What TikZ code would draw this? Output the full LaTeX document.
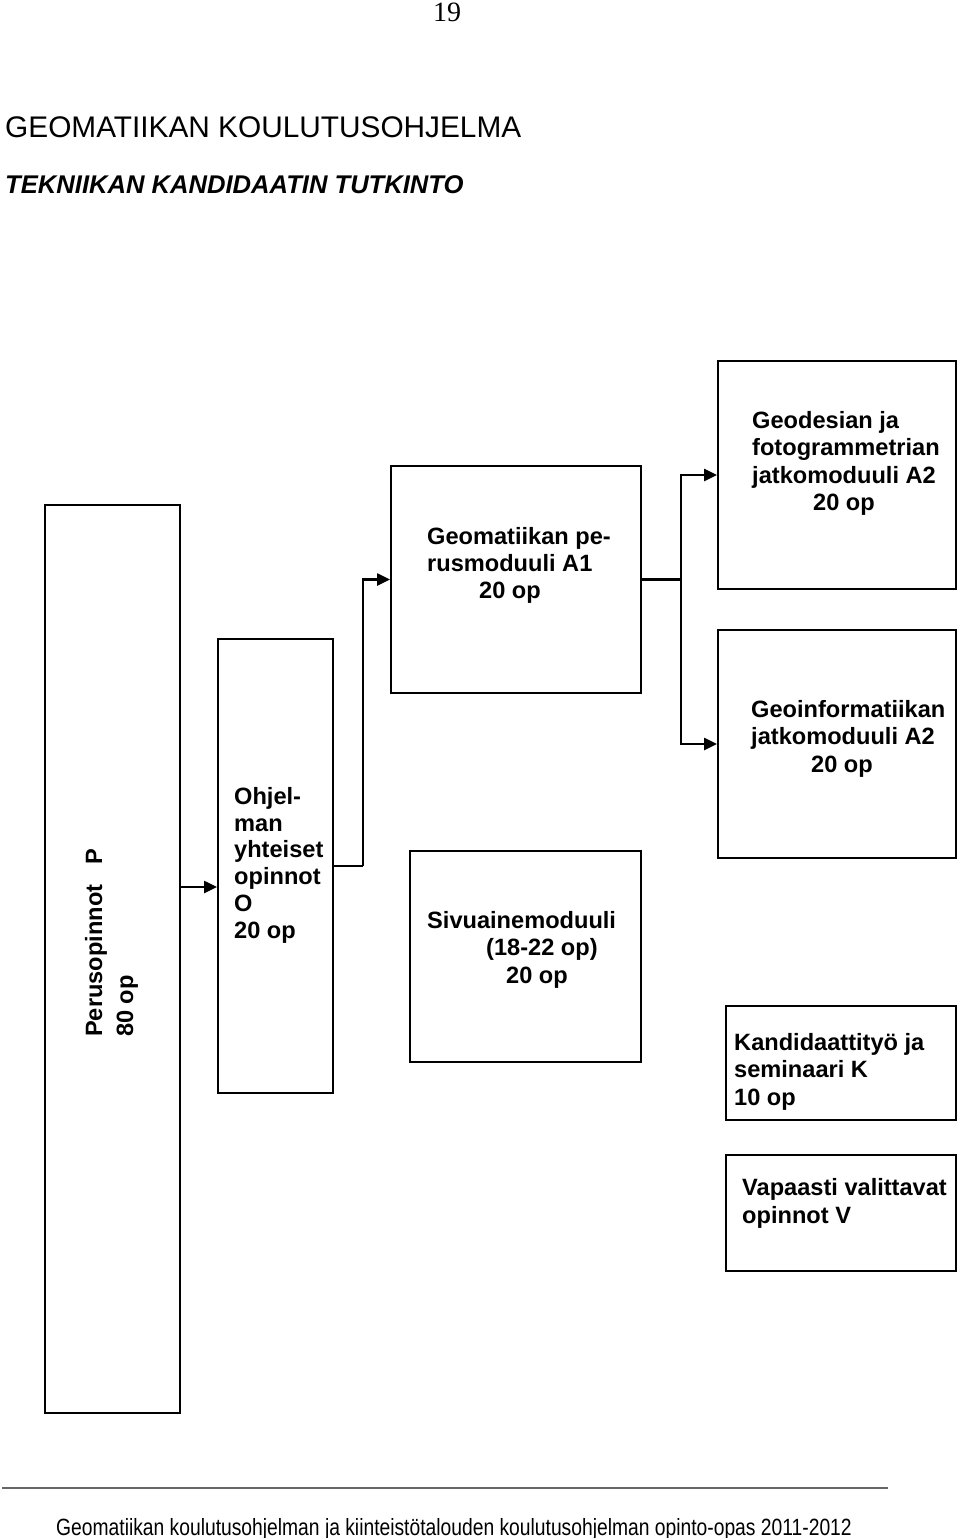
\documentclass[tikz,border=0pt]{standalone}
\usepackage{fontspec}
\setmainfont{Liberation Sans}
\newfontfamily\seriffont{Liberation Serif}
\newfontfamily\narrowfont[FakeStretch=0.82]{Liberation Sans}
\usetikzlibrary{arrows.meta}
\tikzset{
  box/.style={draw, line width=1.8pt, inner sep=0pt},
  lbl/.style={font=\fontsize{23.6}{27.5}\selectfont\bfseries, inner sep=0pt, anchor=base west},
  conn/.style={line width=2.2pt},
  arr/.style={conn, -{Triangle[length=13pt,width=12pt]}},
}
\begin{document}
\begin{tikzpicture}[x=1pt,y=-1pt]
\useasboundingbox (0,0) rectangle (960,1538);
% page number and titles
\node[font=\seriffont\fontsize{28}{30}\selectfont, inner sep=0pt, anchor=base] (pg) at (447,22) {19};
\node[anchor=base west, font=\fontsize{29.8}{32}\selectfont, inner sep=0pt] (ttl) at (5,137.5) {GEOMATIIKAN KOULUTUSOHJELMA};
\node[anchor=base west, font=\fontsize{25.6}{28}\selectfont\bfseries\itshape, inner sep=0pt] (sub) at (5,194) {TEKNIIKAN KANDIDAATIN TUTKINTO};
% boxes
\node[box, minimum width=135pt, minimum height=908pt] (p) at (112.5,959) {};
\node[box, minimum width=115pt, minimum height=454pt] (o) at (275.5,866) {};
\node[box, minimum width=250pt, minimum height=227pt] (a1) at (516,579.5) {};
\node[box, minimum width=231pt, minimum height=211pt] (sv) at (525.5,956.5) {};
\node[box, minimum width=238pt, minimum height=228pt] (a2) at (837,475) {};
\node[box, minimum width=238pt, minimum height=228pt] (gi) at (837,744) {};
\node[box, minimum width=230pt, minimum height=114pt] (k) at (841,1063) {};
\node[box, minimum width=230pt, minimum height=116pt] (v) at (841,1213) {};
% labels
\node[lbl] (a2t1) at (752,428) {Geodesian ja};
\node[lbl] (a2t2) at (752,455.5) {fotogrammetrian};
\node[lbl] (a2t3) at (752,483) {jatkomoduuli A2};
\node[lbl] (a2t4) at (813,510.5) {20 op};
\node[lbl] (a1t1) at (427,544) {Geomatiikan pe-};
\node[lbl] (a1t2) at (427,571) {rusmoduuli A1};
\node[lbl] (a1t3) at (479,598) {20 op};
\node[lbl] (git1) at (751,717) {Geoinformatiikan};
\node[lbl] (git2) at (751,744.5) {jatkomoduuli A2};
\node[lbl] (git3) at (811,772) {20 op};
\node[lbl] (ot1) at (234,804) {Ohjel-};
\node[lbl] (ot2) at (234,831) {man};
\node[lbl] (ot3) at (234,857) {yhteiset};
\node[lbl] (ot4) at (234,884) {opinnot};
\node[lbl] (ot5) at (234,911) {O};
\node[lbl] (ot6) at (234,938) {20 op};
\node[lbl] (svt1) at (427,928) {Sivuainemoduuli};
\node[lbl] (svt2) at (486,955.5) {(18-22 op)};
\node[lbl] (svt3) at (506,983) {20 op};
\node[lbl] (kt1) at (734,1050) {Kandidaattityö ja};
\node[lbl] (kt2) at (734,1077) {seminaari K};
\node[lbl] (kt3) at (734,1105) {10 op};
\node[lbl] (vt1) at (742,1195) {Vapaasti valittavat};
\node[lbl] (vt2) at (742,1223) {opinnot V};
\node[lbl, rotate=90] (pt1) at (102,1037) {Perusopinnot\hspace{20pt}P};
\node[lbl, rotate=90] (pt2) at (133,1037) {80 op};
% connectors
\coordinate (pa) at (180,887);
\draw[arr] (pa) -- (o.west |- pa);
\draw[conn] (o.east) -- ++(29,0) coordinate (ob);
\draw[arr] (ob) |- (a1.west);
\draw[conn] (a1.east) -- ++(39,0) coordinate (j);
\draw[arr] (j) |- (a2.west);
\draw[arr] (j) |- (gi.west);
% footer
\coordinate (fl) at (2,1488);
\coordinate (fr) at (888,1488);
\draw[line width=1.6pt, black!60] (fl) -- (fr);
\node[font=\narrowfont\fontsize{23.5}{26}\selectfont, inner sep=0pt, anchor=base] (ft) at (454,1535) {Geomatiikan koulutusohjelman ja kiinteistötalouden koulutusohjelman opinto-opas 2011-2012};
\end{tikzpicture}
\end{document}
